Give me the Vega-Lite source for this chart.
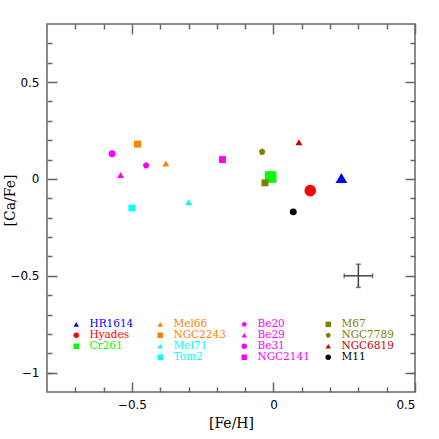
{
  "$schema": "https://vega.github.io/schema/vega-lite/v6.json",
  "width": 368,
  "height": 368,
  "autosize": "none",
  "padding": {"left": 47, "top": 24, "right": 24, "bottom": 47},
  "background": "white",
  "config": {
    "view": {"stroke": "#666", "strokeWidth": 1.5},
    "axis": {"domain": false, "grid": false, "tickColor": "#666", "tickWidth": 1.5, "labelFont": "DejaVu Sans", "labelFontSize": 12, "labelColor": "#000", "titleFont": "DejaVu Serif", "titleFontSize": 14, "titleFontWeight": "normal", "titleColor": "#000"}
  },
  "datasets": {
    "clusters": [
      {"cluster": "HR1614", "feh": 0.24, "cafe": 0.005, "source": "this work"},
      {"cluster": "Hyades", "feh": 0.13, "cafe": -0.06, "source": "this work"},
      {"cluster": "Cr261", "feh": -0.01, "cafe": 0.01, "source": "this work"},
      {"cluster": "Mel66", "feh": -0.38, "cafe": 0.08, "source": "literature"},
      {"cluster": "NGC2243", "feh": -0.48, "cafe": 0.18, "source": "literature"},
      {"cluster": "Mel71", "feh": -0.30, "cafe": -0.12, "source": "literature"},
      {"cluster": "Tom2", "feh": -0.50, "cafe": -0.15, "source": "literature"},
      {"cluster": "Be20", "feh": -0.45, "cafe": 0.07, "source": "literature"},
      {"cluster": "Be29", "feh": -0.54, "cafe": 0.02, "source": "literature"},
      {"cluster": "Be31", "feh": -0.57, "cafe": 0.13, "source": "literature"},
      {"cluster": "NGC2141", "feh": -0.18, "cafe": 0.10, "source": "literature"},
      {"cluster": "M67", "feh": -0.03, "cafe": -0.02, "source": "literature"},
      {"cluster": "NGC7789", "feh": -0.04, "cafe": 0.14, "source": "literature"},
      {"cluster": "NGC6819", "feh": 0.09, "cafe": 0.19, "source": "literature"},
      {"cluster": "M11", "feh": 0.07, "cafe": -0.17, "source": "literature"}
    ],
    "err": [
      {"feh": 0.3, "cafe": -0.5, "feh_err": 0.05, "cafe_err": 0.06}
    ]
  },
  "layer": [
    {
      "data": {"name": "clusters"},
      "transform": [{"filter": "datum.source == 'this work'"}],
      "mark": {"type": "point", "filled": true, "opacity": 1, "strokeWidth": 0},
      "encoding": {
        "x": {"field": "feh", "type": "quantitative", "scale": {"domain": [-0.8, 0.5], "nice": false, "zero": false},
          "axis": {"orient": "bottom", "values": [-0.5, 0, 0.5], "format": "~g", "offset": -10, "tickSize": 10, "labelPadding": 7, "title": "[Fe/H]", "titlePadding": 6}},
        "y": {"field": "cafe", "type": "quantitative", "scale": {"domain": [-1.1, 0.8], "nice": false, "zero": false},
          "axis": {"orient": "left", "values": [-1, -0.5, 0, 0.5], "format": "~g", "offset": -10, "tickSize": 10, "labelPadding": 8, "title": "[Ca/Fe]", "titleX": -47, "titleY": 176, "titleBaseline": "middle", "titleAngle": -90}},
        "color": {"field": "cluster", "type": "nominal",
          "scale": {"domain": ["HR1614", "Hyades", "Cr261", " ", "Mel66", "NGC2243", "Mel71", "Tom2", "Be20", "Be29", "Be31", "NGC2141", "M67", "NGC7789", "NGC6819", "M11"],
            "range": ["#0000ff", "#ff0000", "#00ff00", "transparent", "#ff8000", "#ff8000", "#00ffff", "#00ffff", "#ff00ff", "#ff00ff", "#ff00ff", "#ff00ff", "#808000", "#808000", "#cc0000", "#000000"]},
          "legend": {"orient": "none", "legendX": 24, "legendY": 295, "columns": 4, "title": null, "padding": 0, "gridAlign": "all", "columnPadding": 13, "rowPadding": -1, "labelFont": "DejaVu Serif", "labelFontSize": 10.5, "labelOffset": 8, "symbolSize": 30, "symbolStrokeWidth": 0,
            "labelColor": {"expr": "scale('color', datum.value)"}}},
        "shape": {"field": "cluster", "type": "nominal",
          "scale": {"domain": ["HR1614", "Hyades", "Cr261", " ", "Mel66", "NGC2243", "Mel71", "Tom2", "Be20", "Be29", "Be31", "NGC2141", "M67", "NGC7789", "NGC6819", "M11"],
            "range": ["triangle-up", "circle", "square", "circle", "triangle-up", "square", "triangle-up", "square", "M0,-1L0.951,-0.309L0.588,0.809L-0.588,0.809L-0.951,-0.309Z", "triangle-up", "circle", "square", "square", "M0,-1L0.951,-0.309L0.588,0.809L-0.588,0.809L-0.951,-0.309Z", "triangle-up", "circle"]}},
        "size": {"field": "source", "type": "nominal", "scale": {"domain": ["this work", "literature"], "range": [135, 48]}, "legend": null}
      }
    },
    {
      "data": {"name": "clusters"},
      "transform": [{"filter": "datum.source == 'literature'"}],
      "mark": {"type": "point", "filled": true, "opacity": 1, "strokeWidth": 0},
      "encoding": {
        "x": {"field": "feh", "type": "quantitative", "scale": {"domain": [-0.8, 0.5], "nice": false, "zero": false},
          "axis": {"orient": "bottom", "values": [-0.7, -0.6, -0.4, -0.3, -0.2, -0.1, 0.1, 0.2, 0.3, 0.4], "offset": -5, "tickSize": 5, "labels": false, "title": null}},
        "y": {"field": "cafe", "type": "quantitative", "scale": {"domain": [-1.1, 0.8], "nice": false, "zero": false},
          "axis": {"orient": "left", "values": [-1.0, -0.9, -0.8, -0.7, -0.6, -0.4, -0.3, -0.2, -0.1, 0.1, 0.2, 0.3, 0.4, 0.6, 0.7], "offset": -5, "tickSize": 5, "labels": false, "title": null}},
        "color": {"field": "cluster", "type": "nominal"},
        "shape": {"field": "cluster", "type": "nominal"},
        "size": {"field": "source", "type": "nominal", "legend": null}
      }
    },
    {
      "data": {"name": "err"},
      "mark": {"type": "errorbar", "ticks": {"size": 5}, "color": "#444", "thickness": 1.5},
      "encoding": {
        "x": {"field": "feh", "type": "quantitative", "scale": {"domain": [-0.8, 0.5], "nice": false, "zero": false},
          "axis": {"orient": "top", "values": [-0.5, 0, 0.5], "offset": -10, "tickSize": 10, "labels": false, "title": null}},
        "xError": {"field": "feh_err"},
        "y": {"field": "cafe", "type": "quantitative", "scale": {"domain": [-1.1, 0.8], "nice": false, "zero": false},
          "axis": {"orient": "right", "values": [-1, -0.5, 0, 0.5], "offset": -10, "tickSize": 10, "labels": false, "title": null}}
      }
    },
    {
      "data": {"name": "err"},
      "mark": {"type": "errorbar", "ticks": {"size": 5}, "color": "#444", "thickness": 1.5},
      "encoding": {
        "x": {"field": "feh", "type": "quantitative", "scale": {"domain": [-0.8, 0.5], "nice": false, "zero": false},
          "axis": {"orient": "top", "values": [-0.7, -0.6, -0.4, -0.3, -0.2, -0.1, 0.1, 0.2, 0.3, 0.4], "offset": -5, "tickSize": 5, "labels": false, "title": null}},
        "y": {"field": "cafe", "type": "quantitative", "scale": {"domain": [-1.1, 0.8], "nice": false, "zero": false},
          "axis": {"orient": "right", "values": [-1.0, -0.9, -0.8, -0.7, -0.6, -0.4, -0.3, -0.2, -0.1, 0.1, 0.2, 0.3, 0.4, 0.6, 0.7], "offset": -5, "tickSize": 5, "labels": false, "title": null}},
        "yError": {"field": "cafe_err"}
      }
    }
  ],
  "resolve": {"axis": {"x": "independent", "y": "independent"}}
}
